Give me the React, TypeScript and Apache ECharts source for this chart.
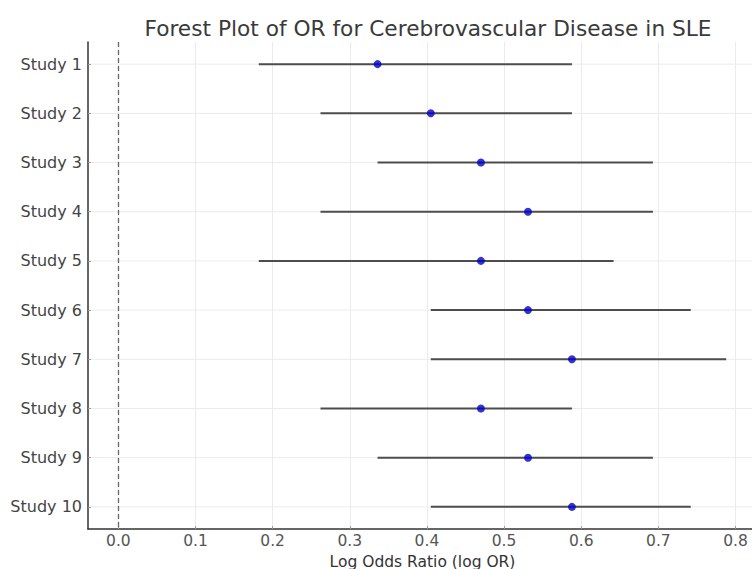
import React, { useEffect, useRef } from "react";
import * as echarts from "echarts";

const studies = ["Study 1", "Study 2", "Study 3", "Study 4", "Study 5", "Study 6", "Study 7", "Study 8", "Study 9", "Study 10"];
const logOR = [0.336, 0.405, 0.47, 0.531, 0.47, 0.531, 0.588, 0.47, 0.531, 0.588];
const ciLower = [0.182, 0.262, 0.336, 0.262, 0.182, 0.405, 0.405, 0.262, 0.336, 0.405];
const ciUpper = [0.588, 0.588, 0.693, 0.693, 0.642, 0.742, 0.788, 0.588, 0.693, 0.742];
const xTicks = [0, 0.1, 0.2, 0.3, 0.4, 0.5, 0.6, 0.7, 0.8];

const FONT = "DejaVu Sans";

export default function App() {
  const ref = useRef<HTMLDivElement>(null);
  useEffect(() => {
    if (!ref.current) return;
    const chart = echarts.init(ref.current, null, { renderer: "svg" });
    const idx = studies.map((_, i) => i);
    chart.setOption({
      animation: false,
      backgroundColor: "#ffffff",
      title: {
        text: "Forest Plot of OR for Cerebrovascular Disease in SLE",
        left: 423,
        top: 12,
        textAlign: "center",
        textStyle: { fontFamily: FONT, fontSize: 21.7, fontWeight: "normal", color: "#3a3a3a" },
      },
      grid: { left: 88, top: 42, width: 669, height: 487, outerBoundsMode: "none", containLabel: false },
      xAxis: {
        type: "value",
        min: -0.0394,
        max: 0.8279,
        name: "Log Odds Ratio (log OR)",
        nameLocation: "middle",
        nameGap: 21,
        nameTextStyle: { fontFamily: FONT, fontSize: 15.5, color: "#333333" },
        axisLine: { show: true, onZero: false, lineStyle: { color: "#333333", width: 1.5 } },
        axisTick: { show: true, inside: true, length: 3, lineStyle: { color: "#999999" }, customValues: xTicks },
        axisLabel: {
          customValues: xTicks,
          formatter: (v: number) => v.toFixed(1),
          fontFamily: FONT,
          fontSize: 15.5,
          color: "#555555",
          margin: 4,
        },
        splitLine: { show: true, lineStyle: { color: "#ebebeb", width: 1 } },
      },
      yAxis: {
        type: "value",
        inverse: true,
        min: -0.45,
        max: 9.45,
        axisLine: { show: true, onZero: false, lineStyle: { color: "#333333", width: 1.5 } },
        axisTick: { show: true, inside: true, length: 3, lineStyle: { color: "#999999" }, customValues: idx },
        axisLabel: {
          customValues: idx,
          formatter: (v: number) => studies[Math.round(v)] ?? "",
          fontFamily: FONT,
          fontSize: 16,
          color: "#444444",
          margin: 6,
        },
        splitLine: { show: false },
      },
      series: [
        {
          type: "custom",
          silent: true,
          data: idx.map((i) => [i]),
          renderItem: (params: any, api: any) => {
            const i = api.value(0);
            const a = api.coord([-0.0394, i]);
            const b = api.coord([0.8279, i]);
            return {
              type: "line",
              shape: { x1: a[0], y1: a[1], x2: b[0], y2: b[1] },
              style: { stroke: "#ebebeb", lineWidth: 1 },
            };
          },
          encode: { y: 0 },
          z: 0,
        },
        {
          type: "custom",
          silent: true,
          data: idx.map((i) => [ciLower[i], ciUpper[i], i]),
          encode: { x: [0, 1], y: 2 },
          renderItem: (params: any, api: any) => {
            const a = api.coord([api.value(0), api.value(2)]);
            const b = api.coord([api.value(1), api.value(2)]);
            return {
              type: "line",
              shape: { x1: a[0], y1: a[1], x2: b[0], y2: b[1] },
              style: { stroke: "#4d4d4d", lineWidth: 2 },
            };
          },
          z: 2,
        },
        {
          type: "scatter",
          data: idx.map((i) => [logOR[i], i]),
          symbol: "circle",
          symbolSize: 8,
          itemStyle: { color: "#0000c8" },
          z: 3,
          markLine: {
            silent: true,
            symbol: "none",
            label: { show: false },
            lineStyle: { color: "#666666", type: [5, 3], width: 1.3 },
            data: [{ xAxis: 0 }],
          },
        },
      ],
    });
    return () => chart.dispose();
  }, []);
  return <div ref={ref} style={{ position: "fixed", left: 0, top: 0, width: 752, height: 569 }} />;
}
